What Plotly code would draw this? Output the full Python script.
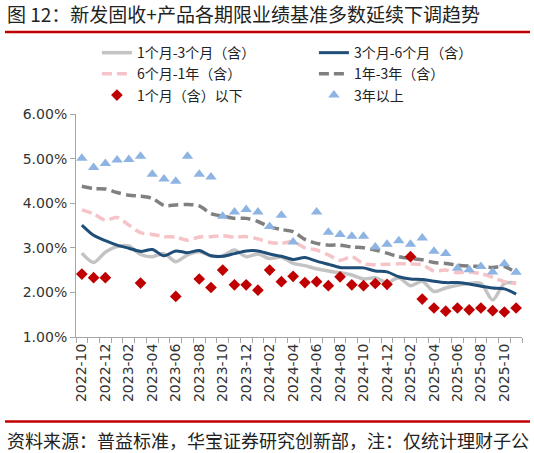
import plotly.graph_objects as go

months = ["2022-10", "2022-11", "2022-12", "2023-01", "2023-02", "2023-03", "2023-04", "2023-05",
          "2023-06", "2023-07", "2023-08", "2023-09", "2023-10", "2023-11", "2023-12", "2024-01",
          "2024-02", "2024-03", "2024-04", "2024-05", "2024-06", "2024-07", "2024-08", "2024-09",
          "2024-10", "2024-11", "2024-12", "2025-01", "2025-02", "2025-03", "2025-04", "2025-05",
          "2025-06", "2025-07", "2025-08", "2025-09", "2025-10", "2025-11"]
tick_labels = [m if i % 2 == 0 else "" for i, m in enumerate(months)]

m1_3 = [2.88, 2.67, 2.90, 3.03, 3.04, 2.85, 2.80, 2.87, 2.69, 2.84, 2.91, 2.82, 2.82, 2.95, 2.80, 2.86,
        2.76, 2.79, 2.65, 2.60, 2.53, 2.48, 2.44, 2.39, 2.30, 2.33, 2.22, 2.33, 2.15, 2.25, 2.02, 2.10,
        2.16, 2.20, 2.20, 1.83, 2.20, 2.21]
m3_6 = [3.51, 3.28, 3.16, 3.06, 2.99, 2.92, 2.96, 2.82, 2.93, 2.89, 2.94, 2.82, 2.81, 2.87, 2.93, 2.93,
        2.86, 2.81, 2.74, 2.78, 2.70, 2.63, 2.56, 2.55, 2.55, 2.48, 2.46, 2.35, 2.30, 2.29, 2.25, 2.22,
        2.22, 2.19, 2.14, 2.10, 2.08, 1.96]
m6_1y = [3.85, 3.76, 3.62, 3.68, 3.51, 3.34, 3.30, 3.25, 3.24, 3.17, 3.24, 3.25, 3.27, 3.24, 3.25, 3.20,
         3.12, 3.10, 3.14, 3.00, 2.95, 2.84, 2.72, 2.80, 2.64, 2.62, 2.63, 2.64, 2.64, 2.62, 2.48, 2.50,
         2.44, 2.46, 2.42, 2.34, 2.24, 2.20]
y1_3 = [4.38, 4.33, 4.32, 4.24, 4.18, 4.16, 4.11, 3.95, 3.96, 3.97, 3.94, 3.77, 3.71, 3.66, 3.66, 3.59,
        3.47, 3.41, 3.36, 3.19, 3.10, 3.06, 3.06, 3.02, 3.00, 2.95, 2.88, 2.80, 2.76, 2.73, 2.67, 2.65,
        2.61, 2.59, 2.58, 2.56, 2.58, 2.44]
le_1m = [2.41, 2.33, 2.33, None, None, 2.21, None, None, 1.91, None, 2.30, 2.11, 2.50, 2.17, 2.17, 2.05,
         2.50, 2.24, 2.36, 2.22, 2.24, 2.15, 2.35, 2.17, 2.15, 2.20, 2.18, None, 2.80, 1.85, 1.65, 1.58,
         1.65, 1.61, 1.65, 1.59, 1.56, 1.65]
over_3y = [5.01, 4.80, 4.89, 4.97, 4.98, 5.05, 4.65, 4.54, 4.49, 5.05, 4.65, 4.59, 3.71, 3.80, 3.86, 3.80,
           3.48, 3.73, 3.13, None, 3.80, 3.35, 3.30, 3.26, 3.26, 3.02, 3.08, 3.16, 3.08, 3.22, 2.92, 2.87,
           2.54, 2.51, 2.58, 2.46, 2.64, 2.45]

FONT = "DejaVu Sans, Noto Sans CJK SC, sans-serif"
CJK = "Noto Sans CJK SC, sans-serif"

fig = go.Figure()
fig.add_trace(go.Scatter(x=months, y=m1_3, name="1个月-3个月（含）", mode="lines",
                         line=dict(color="#C3C3C3", width=3.5, shape="spline", smoothing=0.8)))
fig.add_trace(go.Scatter(x=months, y=m3_6, name="3个月-6个月（含）", mode="lines",
                         line=dict(color="#1F4E79", width=3, shape="spline", smoothing=0.8)))
fig.add_trace(go.Scatter(x=months, y=m6_1y, name="6个月-1年（含）", mode="lines",
                         line=dict(color="#F6C3C8", width=3.5, dash="10px,5px", shape="spline", smoothing=0.8)))
fig.add_trace(go.Scatter(x=months, y=y1_3, name="1年-3年（含）", mode="lines",
                         line=dict(color="#808080", width=3.5, dash="10px,5px", shape="spline", smoothing=0.8)))
fig.add_trace(go.Scatter(x=months, y=le_1m, name="1个月（含）以下", mode="markers",
                         marker=dict(symbol="diamond", size=9, color="#C00000")))
fig.add_trace(go.Scatter(x=months, y=over_3y, name="3年以上", mode="markers",
                         marker=dict(symbol="triangle-up", size=10, color="#8DB4E2")))

fig.update_layout(
    width=534, height=453,
    margin=dict(l=76, r=12, t=114, b=116, autoexpand=False),
    paper_bgcolor="white", plot_bgcolor="white",
    font=dict(family=FONT, size=14, color="#333333"),
    title=dict(text="图 12：新发固收+产品各期限业绩基准多数延续下调趋势",
               font=dict(family=CJK, size=19, color="#222222"),
               x=7 / 534, xanchor="left", xref="container",
               y=1 - 15 / 453, yanchor="middle", yref="container"),
    legend=dict(orientation="h", x=1.02, xanchor="right",
                y=1.345, yanchor="top",
                entrywidth=172, entrywidthmode="pixels",
                font=dict(family=CJK, size=14, color="#222222"),
                bgcolor="rgba(0,0,0,0)", itemclick=False),
    showlegend=True,
    xaxis=dict(type="category", tickmode="array", tickvals=months, ticktext=tick_labels,
               tickangle=-90, tickson="boundaries", ticks="outside", ticklen=5,
               tickcolor="#A6A6A6", showline=True, linecolor="#A6A6A6", linewidth=1,
               showgrid=False, zeroline=False, tickfont=dict(family=FONT, size=14, color="#333333"),
               range=[-0.5, len(months) - 0.5]),
    yaxis=dict(range=[1, 6], dtick=1, tickformat=".2f", ticksuffix="%", ticks="outside",
               ticklen=5, tickcolor="#A6A6A6", showline=True, linecolor="#A6A6A6", linewidth=1,
               showgrid=False, zeroline=False, tickfont=dict(family=FONT, size=14, color="#333333")),
    shapes=[
        dict(type="line", xref="paper", yref="paper", x0=(5 - 76) / 446, x1=(530 - 76) / 446,
             y0=(337 - 32) / 223, y1=(337 - 32) / 223, line=dict(color="#C00000", width=2.5)),
        dict(type="line", xref="paper", yref="paper", x0=(5 - 76) / 446, x1=(530 - 76) / 446,
             y0=(337 - 421.5) / 223, y1=(337 - 421.5) / 223, line=dict(color="#C00000", width=2.5)),
    ],
    annotations=[
        dict(text="资料来源：普益标准，华宝证券研究创新部，注：仅统计理财子公",
             xref="paper", yref="paper", x=(5 - 76) / 446, y=(337 - 440) / 223,
             xanchor="left", yanchor="middle", showarrow=False,
             font=dict(family=CJK, size=18, color="#222222")),
    ],
)

fig.write_html("out.html")
